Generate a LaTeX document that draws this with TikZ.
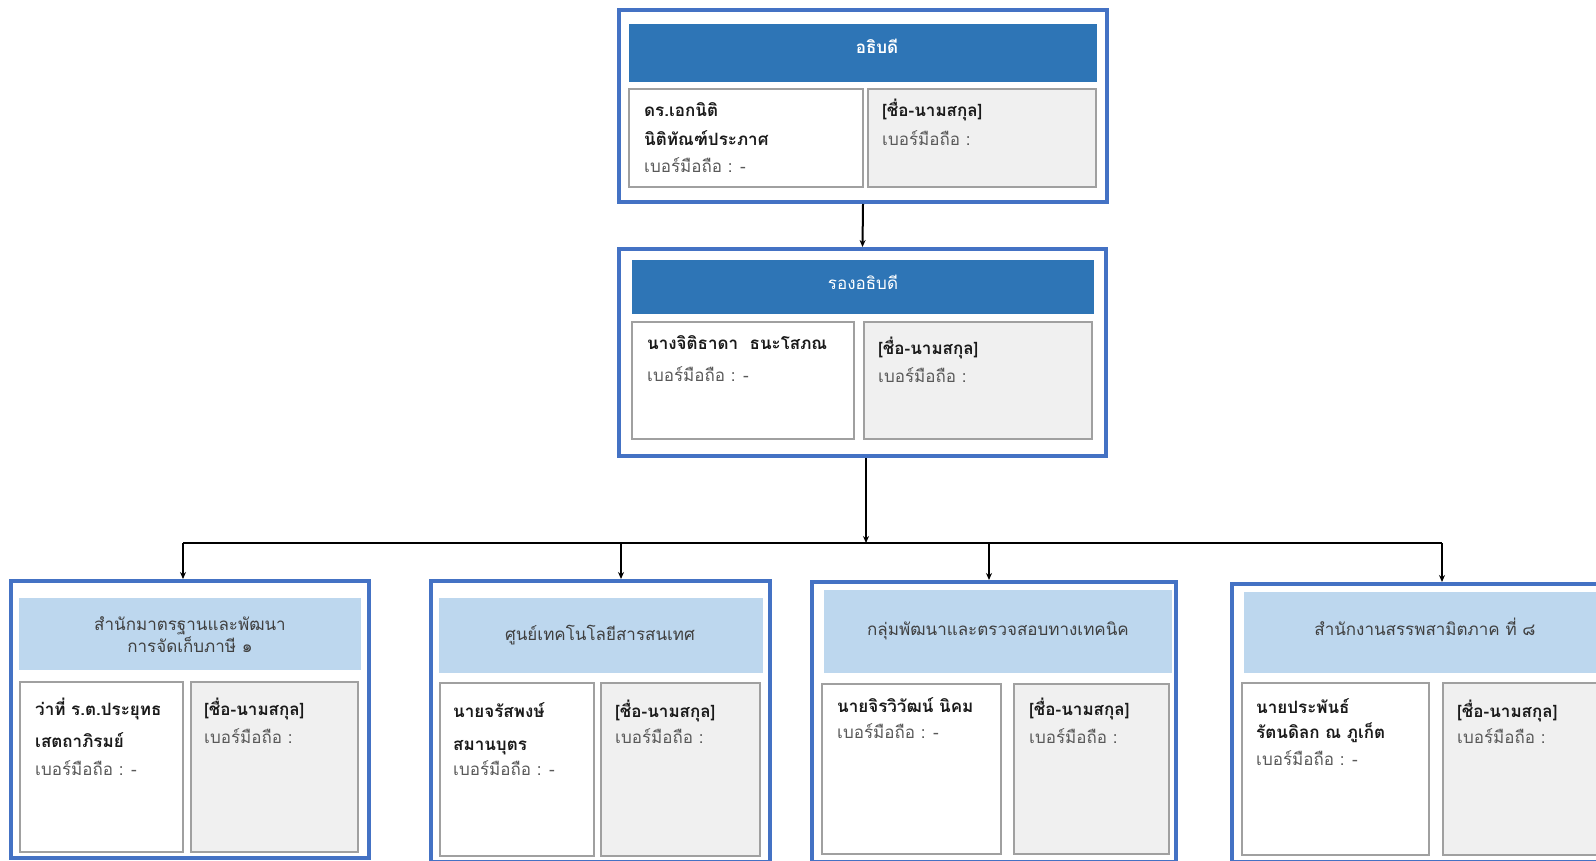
\documentclass[tikz,border=0pt]{standalone}
\usepackage{fontspec}
\newfontfamily\thai[Script=Thai]{Loma}
\usetikzlibrary{arrows.meta,fit}

\definecolor{deptblue}{HTML}{2E75B6}
\definecolor{frameblue}{HTML}{4472C4}
\definecolor{lightblue}{HTML}{BDD7EE}
\definecolor{cellgray}{HTML}{A0A0A0}
\definecolor{cellfill}{HTML}{F0F0F0}
\definecolor{phonegray}{HTML}{595959}
\definecolor{headtext}{HTML}{404040}
\definecolor{namecolor}{HTML}{1A1A1A}

\tikzset{
  frame/.style={draw=frameblue, line width=4pt, fill=white, inner sep=0pt},
  headdark/.style={fill=deptblue, inner sep=0pt},
  headlight/.style={fill=lightblue, inner sep=0pt},
  namecell/.style={draw=cellgray, line width=1.3pt, fill=white, inner sep=0pt},
  blankcell/.style={draw=cellgray, line width=1.3pt, fill=cellfill, inner sep=0pt},
  nametext/.style={anchor=base west, inner sep=0pt, text=namecolor,
    font=\thai\bfseries\fontsize{17}{20}\selectfont},
  phonetext/.style={anchor=base west, inner sep=0pt, text=phonegray,
    font=\thai\fontsize{17}{20}\selectfont},
  darktitle/.style={anchor=base, inner sep=0pt, text=white,
    font=\thai\fontsize{17}{20}\selectfont},
  lighttitle/.style={anchor=base, inner sep=0pt, text=headtext,
    font=\thai\fontsize{17}{20}\selectfont},
  link/.style={line width=2pt, -{Stealth[length=7pt,width=6pt]}},
  busline/.style={line width=2pt}
}

\begin{document}
\begin{tikzpicture}[x=1pt, y=-1pt]
\useasboundingbox (0,0) rectangle (1596,860);
\clip (0,0) rectangle (1596,860);

% --- director general ---
\node[frame, fit={(619,10) (1107,202)}] (dg) {};
\node[headdark, fit={(629,24) (1097,82)}] (dg-head) {};
\node[namecell, fit={(629,89) (863,187)}] (dg-name) {};
\node[blankcell, fit={(868,89) (1096,187)}] (dg-blank) {};
\node[darktitle, font=\thai\bfseries\fontsize{17}{20}\selectfont] (dg-title) at (877,53) {อธิบดี};
\node[nametext] (dg-n1) at (644,116) {ดร.เอกนิติ};
\node[nametext] (dg-n2) at (644,145) {นิติทัณฑ์ประภาศ};
\node[phonetext] (dg-p) at (644,172) {เบอร์มือถือ : -};
\node[nametext] (dg-b1) at (882,116) {[ชื่อ-นามสกุล]};
\node[phonetext] (dg-b2) at (882,145) {เบอร์มือถือ :};

% --- deputy director general ---
\node[frame, fit={(619,249) (1106,456)}] (ddg) {};
\node[headdark, fit={(632,260) (1094,314)}] (ddg-head) {};
\node[namecell, fit={(632,322) (854,439)}] (ddg-name) {};
\node[blankcell, fit={(864,322) (1092,439)}] (ddg-blank) {};
\node[darktitle] (ddg-title) at (863,289) {รองอธิบดี};
\node[nametext] (ddg-n1) at (647,349) {นางจิติธาดา\ \ ธนะโสภณ};
\node[phonetext] (ddg-p) at (647,381) {เบอร์มือถือ : -};
\node[nametext] (ddg-b1) at (878,354) {[ชื่อ-นามสกุล]};
\node[phonetext] (ddg-b2) at (878,382) {เบอร์มือถือ :};

% --- unit A ---
\node[frame, fit={(11,581) (369,858)}] (ua) {};
\node[headlight, fit={(19,598) (361,670)}] (ua-head) {};
\node[namecell, fit={(20,682) (183,852)}] (ua-name) {};
\node[blankcell, fit={(191,682) (358,852)}] (ua-blank) {};
\node[lighttitle] (ua-t1) at (190,630) {สำนักมาตรฐานและพัฒนา};
\node[lighttitle] (ua-t2) at (190,652) {การจัดเก็บภาษี ๑};
\node[nametext] (ua-n1) at (35,715) {ว่าที่ ร.ต.ประยุทธ};
\node[nametext] (ua-n2) at (35,747) {เสตถาภิรมย์};
\node[phonetext] (ua-p) at (35,775) {เบอร์มือถือ : -};
\node[nametext] (ua-b1) at (204,715) {[ชื่อ-นามสกุล]};
\node[phonetext] (ua-b2) at (204,743) {เบอร์มือถือ :};

% --- unit B ---
\node[frame, fit={(431,581) (770,862)}] (ub) {};
\node[headlight, fit={(439,598) (763,673)}] (ub-head) {};
\node[namecell, fit={(440,683) (594,856)}] (ub-name) {};
\node[blankcell, fit={(601,683) (760,856)}] (ub-blank) {};
\node[lighttitle] (ub-t) at (600,640) {ศูนย์เทคโนโลยีสารสนเทศ};
\node[nametext] (ub-n1) at (453,717) {นายจรัสพงษ์};
\node[nametext] (ub-n2) at (453,750) {สมานบุตร};
\node[phonetext] (ub-p) at (453,775) {เบอร์มือถือ : -};
\node[nametext] (ub-b1) at (615,717) {[ชื่อ-นามสกุล]};
\node[phonetext] (ub-b2) at (615,743) {เบอร์มือถือ :};

% --- unit C ---
\node[frame, fit={(812,582) (1176,862)}] (uc) {};
\node[headlight, fit={(824,590) (1172,673)}] (uc-head) {};
\node[namecell, fit={(822,684) (1001,854)}] (uc-name) {};
\node[blankcell, fit={(1014,684) (1169,854)}] (uc-blank) {};
\node[lighttitle] (uc-t) at (998,635) {กลุ่มพัฒนาและตรวจสอบทางเทคนิค};
\node[nametext] (uc-n1) at (837,712) {นายจิรวิวัฒน์ นิคม};
\node[phonetext] (uc-p) at (837,738) {เบอร์มือถือ : -};
\node[nametext] (uc-b1) at (1029,715) {[ชื่อ-นามสกุล]};
\node[phonetext] (uc-b2) at (1029,743) {เบอร์มือถือ :};

% --- unit D ---
\node[frame, fit={(1232,584) (1640,862)}] (ud) {};
\node[headlight, fit={(1244,592) (1630,673)}] (ud-head) {};
\node[namecell, fit={(1242,683) (1429,855)}] (ud-name) {};
\node[blankcell, fit={(1443,683) (1620,855)}] (ud-blank) {};
\node[lighttitle] (ud-t) at (1425,635) {สำนักงานสรรพสามิตภาค ที่ ๘};
\node[nametext] (ud-n1) at (1256,713) {นายประพันธ์};
\node[nametext] (ud-n2) at (1256,738) {รัตนดิลก ณ ภูเก็ต};
\node[phonetext] (ud-p) at (1256,765) {เบอร์มือถือ : -};
\node[nametext] (ud-b1) at (1457,717) {[ชื่อ-นามสกุล]};
\node[phonetext] (ud-b2) at (1457,743) {เบอร์มือถือ :};

% --- connectors ---
\coordinate (trunk) at (866,543);
\coordinate (busL) at (183,543);
\coordinate (busR) at (1442,543);
\coordinate (dropB) at (621,543);
\coordinate (dropC) at (989,543);
\draw[link] (dg.south) -- (ddg.north);
\draw[link] (trunk |- ddg.south) -- (trunk);
\draw[busline] (busL) -- (busR);
\draw[link] (busL) -- (busL |- ua.north);
\draw[link] (dropB) -- (dropB |- ub.north);
\draw[link] (dropC) -- (dropC |- uc.north);
\draw[link] (busR) -- (busR |- ud.north);
\end{tikzpicture}
\end{document}
